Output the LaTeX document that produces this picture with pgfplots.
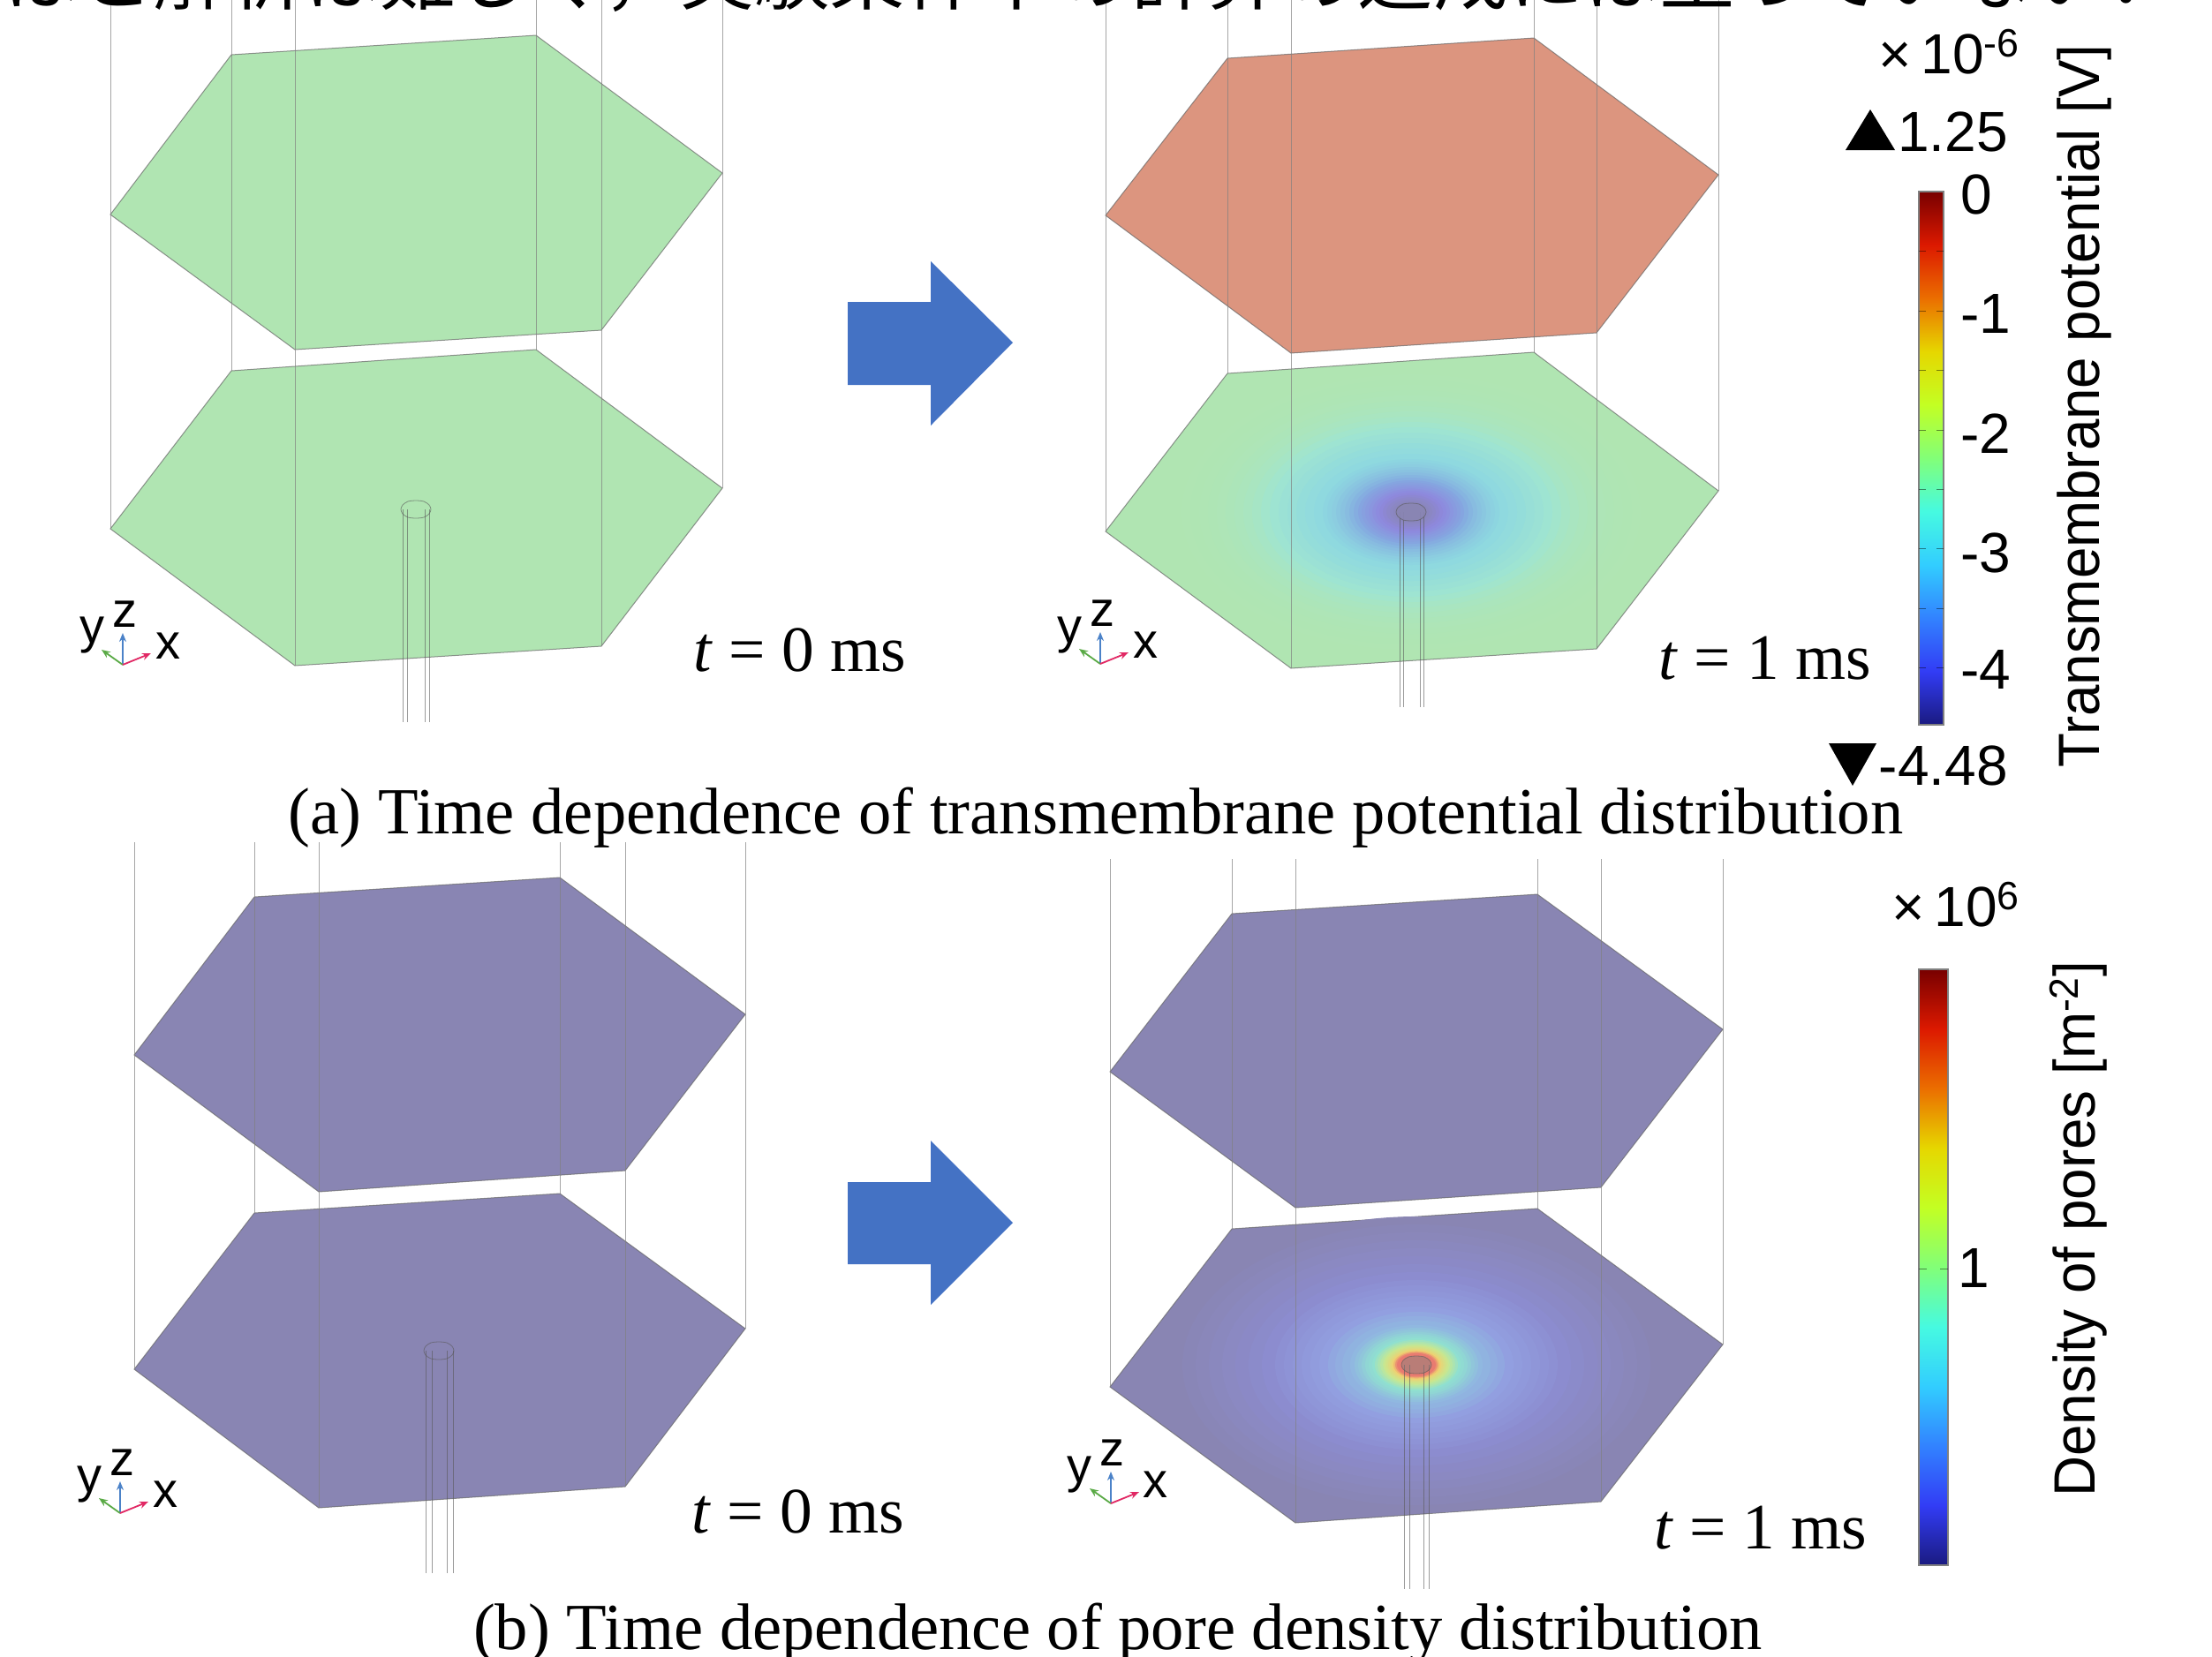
\documentclass[border=0pt]{standalone}
\usepackage{pgfplots}
\pgfplotsset{compat=1.18}
\usepackage{fontspec}
\setmainfont{Liberation Serif}
\newfontfamily\hv{Liberation Sans}
\newfontfamily\cjk{Noto Sans CJK JP}
\usetikzlibrary{arrows.meta}
\definecolor{hexg}{HTML}{B0E5B2}
\definecolor{hexr}{HTML}{DC957F}
\definecolor{hexb}{HTML}{8985B3}
\definecolor{arrowb}{HTML}{4472C4}
\definecolor{trb}{RGB}{75,130,200}
\definecolor{trg}{RGB}{90,170,70}
\definecolor{trr}{RGB}{225,40,100}
\pgfplotsset{
 colormap={rb}{rgb255=(26,26,128) rgb255=(50,60,245) rgb255=(50,130,255) rgb255=(50,205,255) rgb255=(70,250,225) rgb255=(130,255,120) rgb255=(195,255,35) rgb255=(230,215,0) rgb255=(235,110,0) rgb255=(220,25,0) rgb255=(120,0,0)},
 colormap={fa}{rgb255=(138,134,184) rgb255=(142,136,222) rgb255=(132,170,224) rgb255=(142,216,224) rgb255=(160,229,208) rgb255=(171,229,188) rgb255=(176,229,178)},
 colormap={fb}{rgb255=(192,128,128) rgb255=(232,112,112) rgb255=(240,208,112) rgb255=(200,232,144) rgb255=(144,224,208) rgb255=(144,184,224) rgb255=(146,159,224) rgb255=(140,140,208) rgb255=(137,133,179)},
 discs/.style={scatter, only marks, mark=*, point meta=explicit,
   visualization depends on={\thisrow{r} \as \rr},
   scatter/@pre marker code/.append style={/tikz/mark size=0.5*\rr},
   mark options={yscale=0.6,draw opacity=0}},
 hexf/.style={draw=gray!80!black, draw opacity=0.7, line width=0.5pt},
 vl/.style={gray, line width=0.45pt, draw opacity=0.7, forget plot},
 cyl/.style={gray!70!black, line width=0.4pt, draw opacity=0.6},
 bar/.style={surf, shader=interp, point meta=explicit},
 tk/.style={black, line width=0.4pt, draw opacity=0.45},
 tr/.style={-{Stealth[length=5pt,width=4pt]}, line width=0.9pt},
}
\pgfplotstableread{
x y r m
1598 580 270 1.00
1598 580 260 0.99
1598 580 250 0.98
1598 580 240 0.97
1598 580 230 0.95
1598 580 220 0.92
1598 580 210 0.88
1598 580 200 0.84
1598 580 190 0.80
1598 580 180 0.76
1598 580 170 0.70
1598 580 160 0.65
1598 580 150 0.62
1598 580 140 0.59
1598 580 130 0.56
1598 580 120 0.535
1598 580 110 0.51
1598 580 100 0.49
1598 580 95 0.475
1598 580 90 0.46
1598 580 85 0.44
1598 580 80 0.42
1598 580 75 0.40
1598 580 70 0.375
1598 580 65 0.345
1598 580 60 0.31
1598 580 56 0.285
1598 580 52 0.26
1598 580 48 0.235
1598 580 44 0.205
1598 580 40 0.18
1598 580 36 0.15
1598 580 32 0.115
1598 580 28 0.08
1598 580 24 0.05
1598 580 20 0.02
}\gradA
\pgfplotstableread{
x y r m
1604 1546 280 1.00
1604 1546 265 0.985
1604 1546 250 0.97
1604 1546 235 0.955
1604 1546 220 0.935
1604 1546 205 0.92
1604 1546 190 0.90
1604 1546 175 0.88
1604 1546 160 0.85
1604 1546 150 0.83
1604 1546 140 0.81
1604 1546 130 0.79
1604 1546 120 0.77
1604 1546 110 0.75
1604 1546 100 0.71
1604 1546 92 0.68
1604 1546 84 0.65
1604 1546 75 0.625
1604 1546 70 0.60
1604 1546 66 0.58
1604 1546 62 0.555
1604 1546 58 0.53
1604 1546 54 0.515
1604 1546 50 0.50
1604 1546 47 0.47
1604 1546 44 0.44
1604 1546 41 0.41
1604 1546 38 0.385
1604 1546 36 0.36
1604 1546 34 0.34
1604 1546 32 0.315
1604 1546 30 0.29
1604 1546 28 0.26
1604 1546 26 0.22
1604 1546 24 0.17
1604 1546 22 0.14
}\gradB
\pgfplotstableread{
x y m
2173 217 1
2201 217 1
2173 821 0
2201 821 0
}\barA
\pgfplotstableread{
x y m
2173 1098 1
2206 1098 1
2173 1773 0
2206 1773 0
}\barB
\begin{document}
\begin{tikzpicture}
\path[use as bounding box] (0,0) rectangle (1252.5pt,938pt);
\clip (0,0) rectangle (1252.5pt,938pt);
\begin{axis}[
  scale only axis, width=1252.5pt, height=938pt, at={(0,0)}, anchor=south west,
  xmin=0, xmax=2505, ymin=0, ymax=1876, y dir=reverse, hide axis, clip=false,
  clip marker paths=true, point meta min=0, point meta max=1,
]
% --- (a) left
\addplot[hexf, fill=hexg] coordinates {(262,62)(607,40)(818,196)(681,374)(334,396)(125,243)} -- cycle;
\addplot[hexf, fill=hexg] coordinates {(262,420)(607,396)(818,553)(681,732)(334,754)(125,599)} -- cycle;
\addplot[vl] coordinates {(125,0)(125,599)};
\addplot[vl] coordinates {(262,0)(262,420)};
\addplot[vl] coordinates {(334,0)(334,754)};
\addplot[vl] coordinates {(607,0)(607,396)};
\addplot[vl] coordinates {(681,0)(681,732)};
\addplot[vl] coordinates {(818,0)(818,553)};
\addplot[cyl] coordinates {(456,577)(456,818)};
\addplot[cyl] coordinates {(461,577)(461,818)};
\addplot[cyl] coordinates {(481,577)(481,818)};
\addplot[cyl] coordinates {(486,577)(486,818)};
\addplot[cyl, smooth cycle] coordinates {(454,577)(456,572)(462,568)(471,567)(480,568)(486,572)(488,577)(486,582)(480,586)(471,587)(462,586)(456,582)};
% --- (a) right
\addplot[hexf, fill=hexr] coordinates {(1390,66)(1737,43)(1946,198)(1808,377)(1462,400)(1252,244)} -- cycle;
\addplot[hexf, fill=hexg] coordinates {(1390,423)(1737,399)(1946,556)(1808,735)(1462,757)(1252,602)} -- cycle;
\addplot[discs, colormap name=fa] table[x=x,y=y,meta=m] {\gradA};
\addplot[vl] coordinates {(1252,0)(1252,602)};
\addplot[vl] coordinates {(1390,0)(1390,423)};
\addplot[vl] coordinates {(1462,0)(1462,757)};
\addplot[vl] coordinates {(1737,0)(1737,399)};
\addplot[vl] coordinates {(1808,0)(1808,735)};
\addplot[vl] coordinates {(1946,0)(1946,556)};
\addplot[cyl] coordinates {(1585,580)(1585,801)};
\addplot[cyl] coordinates {(1589,580)(1589,801)};
\addplot[cyl] coordinates {(1608,580)(1608,801)};
\addplot[cyl] coordinates {(1612,580)(1612,801)};
\addplot[cyl, fill=hexb, fill opacity=0.9, smooth cycle] coordinates {(1581,580)(1583,575)(1589,571)(1598,570)(1607,571)(1613,575)(1615,580)(1613,585)(1607,589)(1598,590)(1589,589)(1583,585)};
% --- (b) left
\addplot[hexf, fill=hexb] coordinates {(288,1016)(634,994)(844,1149)(708,1326)(361,1350)(152,1195)} -- cycle;
\addplot[hexf, fill=hexb] coordinates {(288,1374)(634,1352)(844,1505)(708,1684)(361,1708)(152,1551)} -- cycle;
\addplot[vl] coordinates {(152,954)(152,1551)};
\addplot[vl] coordinates {(288,954)(288,1374)};
\addplot[vl] coordinates {(361,954)(361,1708)};
\addplot[vl] coordinates {(634,954)(634,1352)};
\addplot[vl] coordinates {(708,954)(708,1684)};
\addplot[vl] coordinates {(844,954)(844,1505)};
\addplot[cyl] coordinates {(482,1530)(482,1782)};
\addplot[cyl] coordinates {(489,1530)(489,1782)};
\addplot[cyl] coordinates {(506,1530)(506,1782)};
\addplot[cyl] coordinates {(513,1530)(513,1782)};
\addplot[cyl, smooth cycle] coordinates {(480,1530)(482,1525)(488,1521)(497,1520)(506,1521)(512,1525)(514,1530)(512,1535)(506,1539)(497,1540)(488,1539)(482,1535)};
% --- (b) right
\addplot[hexf, fill=hexb] coordinates {(1395,1035)(1741,1013)(1951,1166)(1813,1345)(1467,1368)(1257,1214)} -- cycle;
\addplot[hexf, fill=hexb] coordinates {(1395,1392)(1741,1369)(1951,1523)(1813,1701)(1467,1725)(1257,1571)} -- cycle;
\addplot[discs, colormap name=fb] table[x=x,y=y,meta=m] {\gradB};
\addplot[vl] coordinates {(1257,973)(1257,1571)};
\addplot[vl] coordinates {(1395,973)(1395,1392)};
\addplot[vl] coordinates {(1467,973)(1467,1725)};
\addplot[vl] coordinates {(1741,973)(1741,1369)};
\addplot[vl] coordinates {(1813,973)(1813,1701)};
\addplot[vl] coordinates {(1951,973)(1951,1523)};
\addplot[cyl] coordinates {(1590,1546)(1590,1800)};
\addplot[cyl] coordinates {(1596,1546)(1596,1800)};
\addplot[cyl] coordinates {(1612,1546)(1612,1800)};
\addplot[cyl] coordinates {(1618,1546)(1618,1800)};
\addplot[cyl, fill=gray, fill opacity=0.45, smooth cycle] coordinates {(1587,1546)(1589,1541)(1595,1537)(1604,1536)(1613,1537)(1619,1541)(1621,1546)(1619,1551)(1613,1555)(1604,1556)(1595,1555)(1589,1551)};
% --- arrows
\addplot[fill=arrowb, draw=none] coordinates {(960,342)(1054,342)(1054,296)(1147,388)(1054,482)(1054,436)(960,436)} -- cycle;
\addplot[fill=arrowb, draw=none] coordinates {(960,1339)(1054,1339)(1054,1292)(1147,1385)(1054,1478)(1054,1432)(960,1432)} -- cycle;
% --- triads
\addplot[tr, trb] coordinates {(139,753)(139,717)};
\addplot[tr, trg] coordinates {(139,753)(115,736)};
\addplot[tr, trr] coordinates {(139,753)(171,740)};
\addplot[tr, trb] coordinates {(1246,752)(1246,716)};
\addplot[tr, trg] coordinates {(1246,752)(1222,735)};
\addplot[tr, trr] coordinates {(1246,752)(1278,739)};
\addplot[tr, trb] coordinates {(136,1714)(136,1678)};
\addplot[tr, trg] coordinates {(136,1714)(112,1697)};
\addplot[tr, trr] coordinates {(136,1714)(168,1701)};
\addplot[tr, trb] coordinates {(1258,1703)(1258,1667)};
\addplot[tr, trg] coordinates {(1258,1703)(1234,1686)};
\addplot[tr, trr] coordinates {(1258,1703)(1290,1690)};
% --- colour bars
\addplot[bar, colormap name=rb, mesh/rows=2, mesh/cols=2] table[x=x,y=y,meta=m] {\barA};
\addplot[bar, colormap name=rb, mesh/rows=2, mesh/cols=2] table[x=x,y=y,meta=m] {\barB};
\addplot[gray, line width=0.7pt] coordinates {(2173,217)(2201,217)(2201,821)(2173,821)} -- cycle;
\addplot[gray, line width=0.7pt] coordinates {(2173,1098)(2206,1098)(2206,1773)(2173,1773)} -- cycle;
\addplot[tk] coordinates {(2173,284)(2181,284)};\addplot[tk] coordinates {(2193,284)(2201,284)};
\addplot[tk] coordinates {(2173,352)(2181,352)};\addplot[tk] coordinates {(2193,352)(2201,352)};
\addplot[tk] coordinates {(2173,419)(2181,419)};\addplot[tk] coordinates {(2193,419)(2201,419)};
\addplot[tk] coordinates {(2173,487)(2181,487)};\addplot[tk] coordinates {(2193,487)(2201,487)};
\addplot[tk] coordinates {(2173,554)(2181,554)};\addplot[tk] coordinates {(2193,554)(2201,554)};
\addplot[tk] coordinates {(2173,621)(2181,621)};\addplot[tk] coordinates {(2193,621)(2201,621)};
\addplot[tk] coordinates {(2173,689)(2181,689)};\addplot[tk] coordinates {(2193,689)(2201,689)};
\addplot[tk] coordinates {(2173,756)(2181,756)};\addplot[tk] coordinates {(2193,756)(2201,756)};
\addplot[tk] coordinates {(2173,1437)(2182,1437)};
\addplot[tk] coordinates {(2197,1437)(2206,1437)};
% --- triangles
\addplot[fill=black, draw=none] coordinates {(2090,170)(2146,170)(2118,124)} -- cycle;
\addplot[fill=black, draw=none] coordinates {(2071,842)(2125,842)(2098,890)} -- cycle;
% --- text
\node[anchor=base, inner sep=0, font=\cjk\fontsize{42.7}{42.7}\selectfont] at (axis cs:1238,4) {はと解析は難しく，実験条件下の計算の達成には至っていない．};
\node[anchor=base, inner sep=0, font=\fontsize{37.3}{37.3}\selectfont] at (axis cs:1241,944) {(a) Time dependence of transmembrane potential distribution};
\node[anchor=base, inner sep=0, font=\fontsize{37.3}{37.3}\selectfont] at (axis cs:1266,1868) {(b) Time dependence of pore density distribution};
\node[anchor=base, inner sep=0, font=\fontsize{36.7}{36.7}\selectfont] at (axis cs:906,760) {\textit{t} = 0 ms};
\node[anchor=base, inner sep=0, font=\fontsize{36.7}{36.7}\selectfont] at (axis cs:1999,769) {\textit{t} = 1 ms};
\node[anchor=base, inner sep=0, font=\fontsize{36.7}{36.7}\selectfont] at (axis cs:904,1736) {\textit{t} = 0 ms};
\node[anchor=base, inner sep=0, font=\fontsize{36.7}{36.7}\selectfont] at (axis cs:1994,1754) {\textit{t} = 1 ms};
\begin{scope}[every node/.style={inner sep=0, font=\hv\fontsize{32}{32}\selectfont}]
\node[anchor=base east] at (axis cs:2288,83) {×\,10\textsuperscript{-6}};
\node[anchor=base east] at (axis cs:2274,171) {1.25};
\node[anchor=base east] at (axis cs:2274,889) {-4.48};
\node[anchor=base west] at (axis cs:2220,242) {0};
\node[anchor=base west] at (axis cs:2220,377) {-1};
\node[anchor=base west] at (axis cs:2220,513) {-2};
\node[anchor=base west] at (axis cs:2220,648) {-3};
\node[anchor=base west] at (axis cs:2220,780) {-4};
\node[anchor=base east] at (axis cs:2288,1049) {×\,10\textsuperscript{6}};
\node[anchor=base west] at (axis cs:2217,1458) {1};
\node[rotate=90, anchor=base] at (axis cs:2377,460) {\fontsize{33}{33}\selectfont\scalebox{0.965}[1]{Transmembrane potential [V]}};
\node[rotate=90, anchor=base] at (axis cs:2372,1392) {\fontsize{33}{33}\selectfont\scalebox{0.965}[1]{Density of pores [m\textsuperscript{-2}]}};
\end{scope}
\begin{scope}[every node/.style={inner sep=0, font=\hv\fontsize{28}{28}\selectfont}]
\node at (axis cs:141,696) {z}; \node at (axis cs:104,720) {y}; \node at (axis cs:190,732) {x};
\node at (axis cs:1248,695) {z}; \node at (axis cs:1211,719) {y}; \node at (axis cs:1297,731) {x};
\node at (axis cs:138,1657) {z}; \node at (axis cs:101,1681) {y}; \node at (axis cs:187,1693) {x};
\node at (axis cs:1259,1646) {z}; \node at (axis cs:1222,1670) {y}; \node at (axis cs:1308,1682) {x};
\end{scope}
\end{axis}
\end{tikzpicture}
\end{document}
